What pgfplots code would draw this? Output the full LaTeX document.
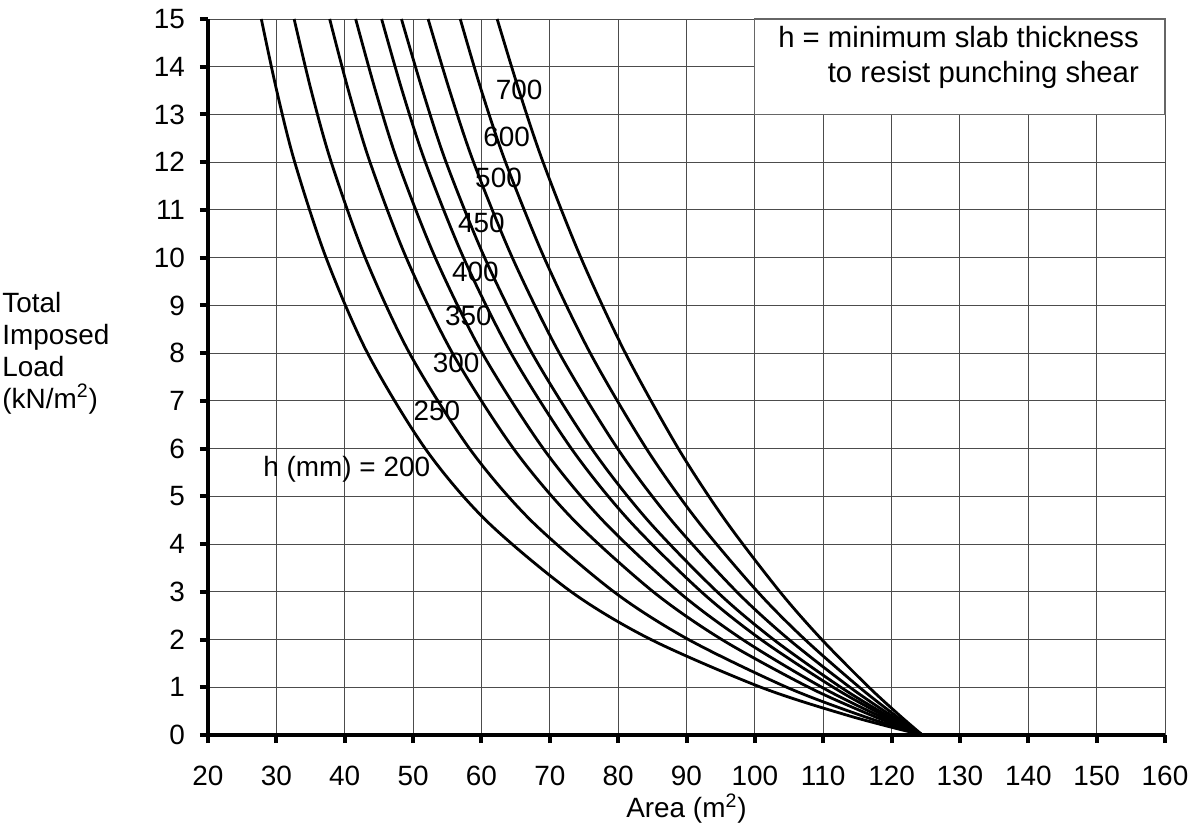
\documentclass[border=0pt]{standalone}
\usepackage{fontspec}
\setmainfont{Liberation Sans}
\usepackage{pgfplots}
\pgfplotsset{compat=1.18}
\newcommand\lbl{\fontsize{14}{16}\selectfont}
\begin{document}
\begin{tikzpicture}
\begin{axis}[
width=478.5bp, height=358bp, scale only axis,
xmin=20, xmax=160, ymin=0, ymax=15,
xtick distance=10, ytick distance=1,
axis lines*=left,
axis line style={line width=2bp},
tick style={line width=2bp,black},
major tick length=4bp,
tick align=outside,
grid=major,
grid style={line width=0.45bp,black!70},
/pgf/number format/assume math mode=true,
ticklabel style={font=\lbl},
xticklabel style={yshift=-8bp},
yticklabel style={xshift=-4bp},
xlabel={Area (m\textsuperscript{2})},
xlabel style={font=\lbl,yshift=3bp},
clip=false,
crv/.style={black,line width=1.4bp,smooth,mark=none},
]
% h = 200
\addplot[crv] coordinates {(27.8,15) (30.05,13.5) (32.69,12) (37.27,10) (43.34,8) (51.78,6) (60.64,4.5) (73.14,3) (84.80,2) (100.89,1) (113.84,0.4) (124.5,0)};
% h = 250
\addplot[crv] coordinates {(32.6,15) (35.1,13.5) (38.03,12) (43.00,10) (49.48,8) (58.26,6) (67.20,4.5) (79.38,3) (90.29,2) (104.67,1) (115.73,0.4) (124.5,0)};
% h = 300
\addplot[crv] coordinates {(37.8,15) (40.55,13.5) (43.70,12) (49.00,10) (55.76,8) (64.69,6) (73.52,4.5) (85.14,3) (95.17,2) (107.88,1) (117.27,0.4) (124.5,0)};
% h = 350
\addplot[crv] coordinates {(41.6,15) (44.5,13.5) (47.78,12) (53.25,10) (60.13,8) (69.05,6) (77.71,4.5) (88.83,3) (98.21,2) (109.80,1) (118.18,0.4) (124.5,0)};
% h = 400
\addplot[crv] coordinates {(45.4,15) (48.4,13.5) (51.80,12) (57.38,10) (64.32,8) (73.16,6) (81.57,4.5) (92.17,3) (100.90,2) (111.47,1) (118.93,0.4) (124.5,0)};
% h = 450
\addplot[crv] coordinates {(48.3,15) (51.4,13.5) (54.83,12) (60.47,10) (67.40,8) (76.13,6) (84.32,4.5) (94.48,3) (102.74,2) (112.58,1) (119.45,0.4) (124.5,0)};
% h = 500
\addplot[crv] coordinates {(52.2,15) (55.35,13.5) (58.85,12) (64.52,10) (71.40,8) (79.92,6) (87.78,4.5) (97.35,3) (104.99,2) (113.91,1) (120.03,0.4) (124.5,0)};
% h = 600
\addplot[crv] coordinates {(56.9,15) (60.0,13.5) (63.53,12) (69.18,10) (75.92,8) (84.13,6) (91.55,4.5) (100.41,3) (107.33,2) (115.29,1) (120.64,0.4) (124.5,0)};
% h = 700
\addplot[crv] coordinates {(62.3,15) (65.5,13.5) (69.02,12) (74.55,10) (81.06,8) (88.81,6) (95.67,4.5) (103.67,3) (109.79,2) (116.69,1) (121.26,0.4) (124.5,0)};

% curve labels
\node[font=\lbl] at (axis cs:65.5,13.52) {700};
\node[font=\lbl] at (axis cs:63.7,12.52) {600};
\node[font=\lbl] at (axis cs:62.5,11.68) {500};
\node[font=\lbl] at (axis cs:60.0,10.73) {450};
\node[font=\lbl] at (axis cs:59.1,9.71) {400};
\node[font=\lbl] at (axis cs:58.1,8.77) {350};
\node[font=\lbl] at (axis cs:56.3,7.79) {300};
\node[font=\lbl] at (axis cs:53.5,6.78) {250};
\node[font=\lbl] at (axis cs:40.3,5.57) {h (mm) = 200};

% note box
\draw[black!60,line width=0.6bp,fill=white] (axis cs:100,15) rectangle (axis cs:160,13);
\node[font=\fontsize{14.7}{17.5}\selectfont,align=right,anchor=east] at (axis cs:157.2,14.2) {h = minimum slab thickness\\to resist punching shear};

% y label
\node[font=\lbl,align=left,anchor=west,inner sep=0pt] at ([xshift=-103bp]axis cs:20,8.0) {Total\\Imposed\\Load\\(kN/m\textsuperscript{2})};
\end{axis}
\path ([xshift=-104bp,yshift=9.5bp]current axis.north west) rectangle ([xshift=18.5bp,yshift=-42.5bp]current axis.south east);
\end{tikzpicture}
\end{document}
